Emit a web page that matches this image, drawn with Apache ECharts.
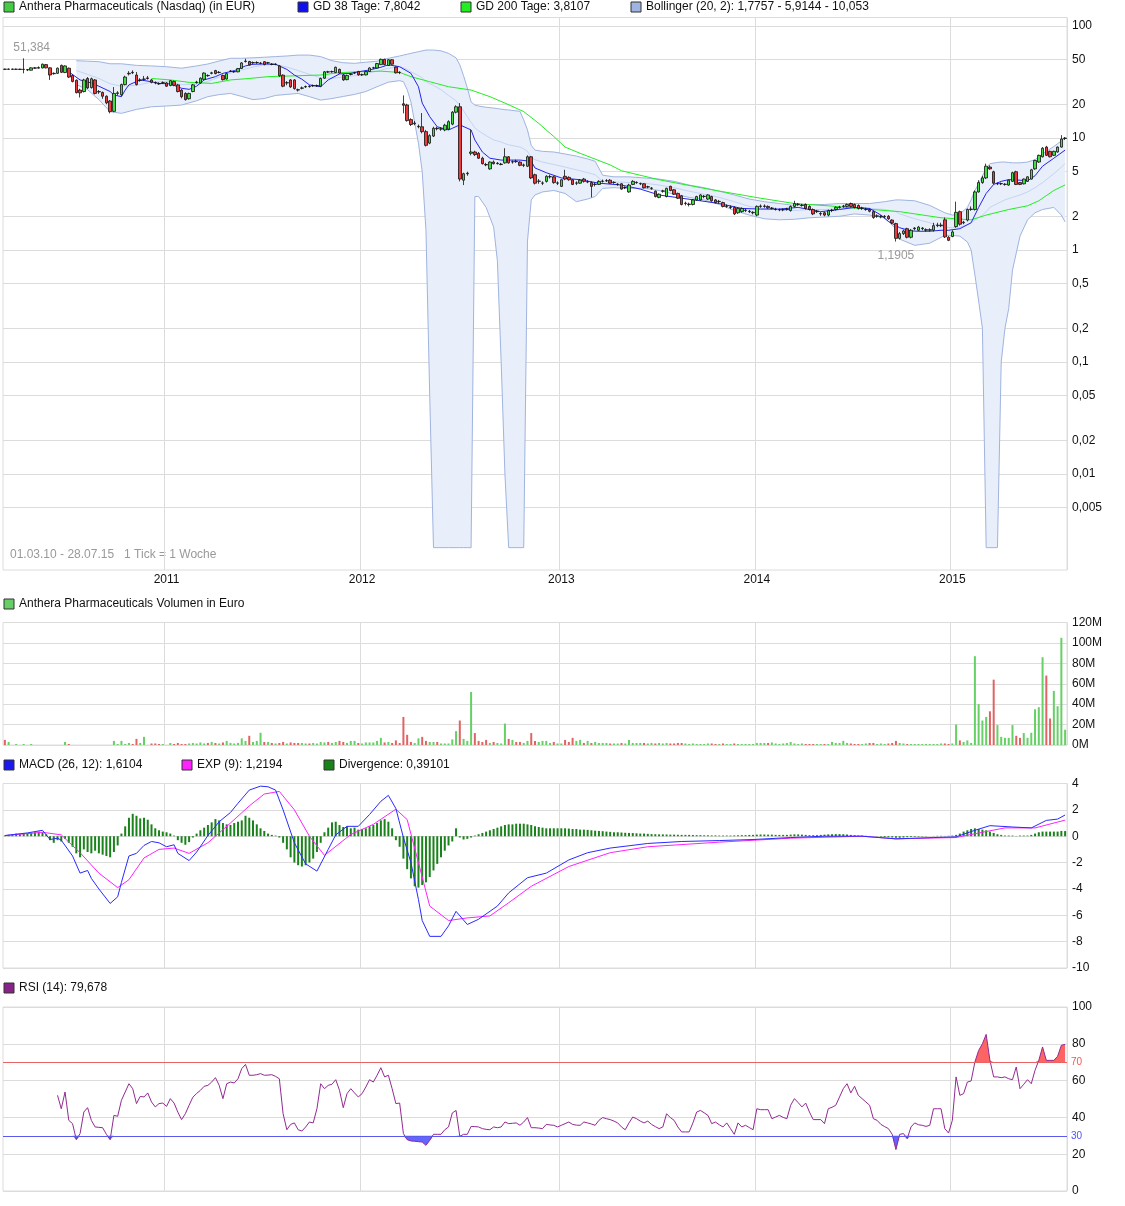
<!DOCTYPE html>
<html><head><meta charset="utf-8">
<script src="https://cdn.jsdelivr.net/npm/echarts@6/dist/echarts.min.js"></script>
<style>html,body{margin:0;padding:0;background:#fff}#c{width:1125px;height:1206px}</style>
</head><body><div id="c"></div>
<script>
// ---------- DATA ----------
const firstWeek = '2010-03-01';
const weekCount = 283;
// weekly candles [open, close, low, high] in EUR
const candles = [
[41.2,41.0,40.6,41.6],[41.0,41.3,40.7,41.7],[41.3,41.0,40.6,41.6],[41.0,41.2,40.6,41.6],[41.2,40.9,40.5,41.5],[40.9,41.1,37.8,51.384],[40.8,40.5,39.6,41.2],[40.3,42.3,40.0,42.8],[42.3,42.0,41.4,43.0],[42.0,42.6,41.6,43.6],
[42.2,45.6,41.8,46.2],[45.2,42.3,41.8,45.8],[42.3,36.5,33.0,42.8],[37.5,37.8,36.8,38.5],[37.8,42.0,37.3,42.6],[44.5,38.6,38.0,45.2],[38.4,44.0,38.0,44.6],[42.0,35.0,34.3,42.6],[36.2,32.0,31.4,36.8],[32.8,25.4,25.0,33.3],
[26.8,25.3,23.0,27.5],[26.0,33.0,25.5,33.8],[34.0,28.0,27.4,35.0],[28.2,33.8,27.6,34.6],[33.0,25.0,24.5,33.6],[25.8,26.0,24.8,26.8],[25.5,23.6,22.4,26.0],[23.6,20.6,20.0,24.0],[21.4,17.2,16.6,21.8],[17.3,25.0,17.0,28.5],
[25.0,25.3,24.0,26.2],[24.3,30.0,23.6,30.6],[30.0,35.0,29.5,36.0],[37.4,37.8,36.2,39.5],[38.6,38.3,37.2,40.2],[36.5,30.0,29.4,38.8],[32.6,33.0,31.8,34.2],[33.4,33.6,32.6,35.8],[34.4,34.0,33.2,35.8],[33.0,31.4,30.8,33.6],
[31.2,31.0,30.2,32.0],[30.6,30.4,29.8,31.4],[31.0,31.2,30.4,32.0],[31.0,29.0,28.6,31.6],[29.4,32.5,29.0,33.0],[32.0,29.6,29.0,32.6],[29.8,26.0,25.5,30.4],[26.8,23.4,22.6,27.4],[25.0,22.0,21.6,25.6],[22.4,25.0,22.0,25.4],
[26.0,29.8,25.6,30.4],[31.2,31.6,30.6,32.4],[31.0,34.2,30.6,34.8],[33.4,38.0,33.0,38.6],[36.2,36.0,35.2,37.0],[37.8,38.2,37.0,39.0],[40.0,37.6,37.0,40.6],[38.4,38.6,37.8,39.6],[36.2,33.2,32.6,36.8],[33.6,37.6,33.2,38.2],
[39.4,39.6,38.8,40.4],[39.0,39.2,38.2,39.8],[39.0,41.6,38.6,42.2],[41.8,46.8,41.4,47.6],[48.2,48.6,47.2,51.0],[48.2,45.0,44.4,48.8],[46.8,47.2,46.0,48.2],[47.0,47.2,46.0,48.4],[46.4,46.6,45.6,47.6],[48.0,45.2,44.6,48.6],
[46.8,47.0,46.0,47.8],[45.6,45.4,44.6,46.6],[45.4,45.6,44.6,46.4],[44.0,36.0,35.2,44.6],[36.4,29.0,28.4,37.0],[31.0,31.2,29.6,32.2],[33.0,28.6,28.0,33.6],[33.0,27.6,27.0,33.6],[27.0,26.8,26.0,27.6],[27.8,28.0,27.2,28.8],
[28.6,28.8,28.0,29.4],[29.0,28.8,28.2,29.6],[29.2,29.4,28.6,30.0],[29.2,29.4,28.6,30.0],[29.0,34.0,28.6,34.6],[34.2,39.0,33.8,39.6],[39.0,38.8,38.0,39.8],[39.0,39.2,38.2,40.0],[38.4,42.8,38.0,43.4],[41.0,38.0,37.4,41.6],
[36.6,33.0,32.4,37.2],[33.2,36.2,32.8,36.8],[37.0,37.2,36.2,38.0],[38.0,38.2,37.2,39.0],[39.2,36.6,36.0,39.8],[36.6,36.8,35.8,37.6],[36.6,39.2,36.2,39.8],[39.2,42.2,38.8,42.8],[42.2,42.4,41.4,43.2],[42.2,46.2,41.8,46.8],
[45.2,50.4,44.8,51.2],[50.4,45.2,44.6,51.0],[44.4,50.0,44.0,50.6],[50.0,45.6,45.0,50.6],[43.0,38.2,37.6,43.6],[38.6,38.4,37.2,39.4],[20.2,19.6,16.6,24.0],[19.7,14.3,14.0,20.2],[14.6,13.2,12.8,15.0],[13.4,13.6,13.0,14.2],
[12.6,12.7,12.2,13.2],[12.6,11.4,11.0,16.7],[11.4,8.6,8.4,11.8],[9.0,10.5,8.8,10.8],[10.4,12.2,10.2,12.6],[12.2,12.1,11.7,12.6],[12.0,12.1,11.6,12.5],[11.8,13.0,11.5,13.4],[12.0,14.0,11.8,14.4],[13.3,17.0,13.0,17.4],
[17.0,19.0,16.6,19.6],[19.0,4.3,4.1,20.5],[4.2,4.8,3.8,4.9],[4.8,4.85,4.6,5.0],[7.3,7.5,7.0,11.8],[7.5,7.1,6.9,7.7],[7.3,6.6,6.5,7.5],[6.6,5.9,5.8,6.8],[5.8,5.75,5.6,6.0],[5.3,6.1,5.2,6.2],
[6.1,5.9,5.8,6.3],[5.9,5.95,5.8,6.1],[5.8,5.85,5.7,6.0],[6.0,6.8,5.9,8.1],[6.8,6.0,5.9,6.9],[6.1,6.15,5.9,6.3],[6.2,6.15,6.0,6.4],[6.1,5.7,5.6,6.2],[5.7,5.75,5.5,5.9],[5.6,6.8,5.5,7.0],
[6.8,4.4,4.3,6.9],[4.7,3.95,3.85,4.8],[4.1,4.12,3.9,4.3],[3.95,3.97,3.8,4.1],[4.1,4.55,4.0,4.65],[4.5,4.52,4.35,4.7],[4.5,4.0,3.9,4.6],[3.95,3.97,3.8,4.1],[3.7,4.24,3.65,4.3],[4.55,4.3,4.2,5.2],
[4.45,4.24,4.15,4.55],[4.24,3.85,3.8,4.3],[3.95,3.97,3.8,4.1],[3.95,4.2,3.9,4.3],[4.3,4.1,4.0,4.4],[4.05,4.07,3.95,4.2],[4.0,3.7,2.95,4.1],[3.85,3.87,3.7,4.0],[3.85,4.1,3.8,4.2],[4.1,4.12,4.0,4.25],
[4.15,4.17,4.05,4.3],[4.2,3.95,3.9,4.3],[4.0,4.02,3.9,4.1],[3.85,3.87,3.75,3.95],[3.9,3.5,3.45,3.95],[3.6,3.62,3.5,3.7],[3.3,3.8,3.25,3.9],[3.85,4.1,3.8,4.2],[4.0,4.02,3.9,4.1],[3.9,3.92,3.8,4.0],
[3.9,3.6,3.55,3.95],[3.65,3.67,3.55,3.75],[3.55,3.57,3.45,3.65],[3.35,3.0,2.95,3.4],[2.95,3.15,2.9,3.2],[3.35,3.37,3.25,3.45],[3.0,3.55,2.95,3.6],[3.7,3.4,3.35,3.75],[3.45,3.15,3.1,3.5],[3.2,2.9,2.85,3.25],
[3.05,2.55,2.5,3.1],[2.6,2.62,2.5,2.7],[2.55,2.57,2.45,2.65],[2.55,2.8,2.5,2.85],[2.8,3.0,2.75,3.05],[2.8,3.1,2.75,3.15],[3.0,3.02,2.9,3.1],[2.85,3.1,2.8,3.15],[3.0,2.75,2.7,3.05],[2.8,2.65,2.6,2.85],
[2.7,2.72,2.6,2.8],[2.65,2.45,2.4,2.7],[2.45,2.47,2.38,2.55],[2.4,2.42,2.32,2.5],[2.4,2.1,2.05,2.45],[2.15,2.35,2.1,2.4],[2.2,2.35,2.15,2.4],[2.25,2.27,2.18,2.33],[2.2,2.22,2.14,2.28],[2.15,2.17,2.08,2.22],
[2.05,2.45,2.0,2.5],[2.45,2.47,2.38,2.55],[2.45,2.47,2.38,2.55],[2.45,2.38,2.33,2.5],[2.35,2.37,2.3,2.42],[2.3,2.32,2.25,2.38],[2.28,2.3,2.22,2.35],[2.28,2.3,2.22,2.35],[2.3,2.32,2.25,2.38],[2.25,2.45,2.2,2.5],
[2.45,2.6,2.4,2.75],[2.55,2.57,2.48,2.63],[2.5,2.52,2.44,2.58],[2.55,2.35,2.3,2.6],[2.45,2.3,2.25,2.5],[2.3,2.1,2.05,2.35],[2.2,2.22,2.14,2.28],[2.1,2.12,2.02,2.18],[2.15,2.05,2.0,2.2],[2.05,2.25,2.0,2.3],
[2.25,2.27,2.18,2.33],[2.3,2.4,2.25,2.45],[2.4,2.42,2.34,2.48],[2.45,2.47,2.38,2.53],[2.45,2.55,2.4,2.6],[2.6,2.45,2.4,2.65],[2.55,2.4,2.35,2.6],[2.5,2.35,2.3,2.55],[2.35,2.37,2.28,2.43],[2.3,2.32,2.24,2.38],
[2.3,2.22,2.17,2.35],[2.2,1.95,1.9,2.25],[2.0,2.02,1.94,2.08],[1.98,2.0,1.92,2.05],[1.98,2.0,1.92,2.05],[2.0,1.9,1.86,2.05],[1.85,1.75,1.7,1.88],[1.72,1.27,1.1905,1.75],[1.27,1.4,1.24,1.45],[1.4,1.48,1.36,1.52],
[1.55,1.3,1.27,1.58],[1.3,1.5,1.27,1.54],[1.55,1.57,1.5,1.6],[1.5,1.6,1.47,1.64],[1.55,1.57,1.5,1.6],[1.5,1.52,1.46,1.56],[1.5,1.52,1.46,1.56],[1.5,1.65,1.46,1.75],[1.65,1.67,1.6,1.75],[1.65,1.67,1.6,1.75],
[1.86,1.31,1.28,1.95],[1.3,1.22,1.2,1.33],[1.32,1.45,1.3,1.5],[1.62,2.17,1.58,2.7],[2.2,1.7,1.65,2.25],[1.75,1.77,1.7,1.82],[1.85,2.3,1.8,2.35],[2.3,2.32,2.24,2.45],[2.3,3.3,2.25,3.4],[3.3,4.0,3.25,4.2],
[4.0,4.4,3.9,4.6],[4.4,5.6,4.3,5.9],[5.5,5.3,5.2,5.7],[5.0,3.95,3.85,5.1],[3.9,3.92,3.8,4.0],[3.9,3.92,3.8,4.0],[3.85,3.87,3.75,3.95],[3.8,4.2,3.75,4.25],[4.1,4.9,4.05,5.0],[5.0,3.85,3.8,5.1],
[4.0,3.85,3.8,4.05],[3.9,4.3,3.85,4.35],[4.1,4.5,4.05,4.55],[4.3,5.2,4.25,5.3],[5.3,6.3,5.2,6.4],[6.1,7.0,6.0,7.1],[6.8,8.1,6.7,8.3],[8.3,7.0,6.9,8.5],[7.6,6.8,6.7,7.7],[7.0,7.6,6.9,7.7],
[7.5,8.3,7.4,8.4],[8.3,9.8,8.2,10.6],[9.9,10.0,9.6,10.2]
];
// weekly volume, million EUR
const volume = [
5,3,0,1,0,1,0,1,0,0, 0,0,0,0,0,0,3,1,0,0, 0,0,0,0,0,0,0,0,0,4, 1,4,1,2,1,6,2,8,0,1.5,
1.5,1,1,0,2,1,2,1,1,1.5, 2,1.5,2.5,1.5,2,3,2,1.5,2.5,4, 2,1.5,2,6.5,4,9,3,4,12,3, 3,2,1.5,2,3,1.5,2.5,2,2,2,
1.5,1.5,2,1.5,3,2.5,3,2,3,4, 3,2,4,4,2,1.5,2.5,2.5,2.5,4, 7,2.5,3,2,4.5,2,27.5,10,3,2, 6.5,8,4,3,3,3,1.5,1.5,1.5,5.5,
13.6,24,6,4,52,11.7,4,3,5,2, 3,2,1.5,21,6,5,3,3,2,4, 11.7,4,3,4,4,2,3,1.5,1.5,5, 3,7,4,5,2,4,2,3,2,2,
2,1.5,1.5,1.5,2,1.5,5,2,2,2, 2,1.5,2,1.5,2,1.5,2,1.5,1.5,2, 2,1.5,1,1.5,1,1,1,1.5,1.5,1, 1,1.5,1,1,1.5,1,1,1,1,1,
2,2,2,2,2.5,1.5,1,1.5,2,3, 1.5,1,1.5,1,1,1,1,1,1,1, 3,2,2,4,2,1.5,1,1,1,1.5, 2,2,1,1.5,1,1.5,2,4,2,1.5,
1,1,1,1,1,1,1,1,1,1.5, 1.5,1,1.5,20,4.5,3,4.5,2,87,40, 24,27.5,33,64,19.5,8,7,7,19.5,9, 7,11.7,7,12,35,37,86,68,26,53,
38,105,15
];
// moving averages: [week index, EUR]
const gd38 = [[17,39],[20,33],[23,31],[25,29],[28,26],[29,24.2],[31,23.4],[32,26.8],[33,29.8],[36,33],[39,31.8],[41,30.7],[44,30.4],[47,27.8],[49,27.2],[51,29],[53,33],[56,35.3],[58,37.8],[61,39.9],[64,44],[66,45.5],[69,45.8],[72,45.5],[75,41],[77,36.5],[79,33.5],[81,29.8],[84,28.7],[86,33],[89,37.3],[92,37.8],[94,39],[97,40.5],[100,42.8],[102,45],[105,43.3],[108,37.8],[110,28.7],[111,20.5],[113,15.5],[115,12.6],[118,11.8],[119,12.2],[121,13.1],[124,11.8],[125,9.6],[127,7.5],[129,6.6],[132,6.35],[137,6.35],[140,6.2],[141,5.4],[144,4.9],[148,4.4],[153,4.24],[158,3.95],[164,3.8],[169,3.5],[174,3.1],[180,2.9],[185,2.75],[190,2.6],[196,2.35],[201,2.32],[206,2.32],[211,2.4],[217,2.2],[222,2.3],[226,2.4],[230,2.35],[233,2.05],[235,1.8],[238,1.58],[241,1.48],[243,1.47],[246,1.47],[249,1.5],[251,1.5],[254,1.55],[257,1.75],[259,2.4],[261,3.2],[263,3.85],[265,4.1],[267,4.25],[270,4.2],[272,4.15],[274,4.6],[276,5.6],[279,6.6],[282,7.8]];
const gd200 = [[39,34],[44,33],[49,31.4],[55,30.7],[60,33],[65,34],[70,35.3],[76,35.8],[84,36.5],[89,38.3],[94,39],[100,39.5],[105,38.5],[108,35.3],[113,31.8],[118,28.7],[124,26.8],[129,23.4],[133,20.5],[138,17.2],[142,13.5],[146,10.3],[149,8.3],[153,7.3],[161,5.75],[164,5.1],[174,4.24],[188,3.45],[201,2.9],[210,2.6],[219,2.48],[227,2.35],[238,2.2],[249,1.94],[257,1.86],[261,2.05],[267,2.3],[272,2.48],[275,2.75],[279,3.4],[282,3.81]];
// Bollinger (20, 2): [week index, lower, middle, upper]
const bollinger = [[19,30,40,49],[22,27,37,48.5],[25,22,34,48],[28,17.2,30.5,46],[31,16.6,29,46],[35,18,29.5,44.5],[39,19,31.5,44],[43,19.3,32,43.3],[47,19.7,30,42],[51,21.5,30,44],[54,23.4,32,45.8],[57,24.4,35,48.7],[60,25,38,51.5],[63,23.5,40.5,51.5],[66,22,43,52],[69,22.5,45,52.6],[72,24,45.5,53.3],[75,24.5,43,54],[78,25,40,55],[81,23.4,37,55],[84,21.8,34.5,53.3],[87,22.5,34,49],[90,23.5,35,47],[93,24.5,36,46.4],[96,26,37.5,47.5],[99,28.7,39.5,48.5],[102,31.5,42,51.5],[105,32.5,43,54],[106,31.8,42.5,55],[107,27,41,56],[108,21,39,57],[110,9,36,59],[111,5,34.5,60],[112,1.5,32,61],[113,0.05,30.5,61],[114,0.0022,29.5,61],[116,0.0022,27,60],[118,0.0022,24,57],[120,0.0022,21.5,52],[121,0.0022,19.5,45],[122,0.0022,17.5,36],[123,0.0022,15.5,28],[124,0.0022,13.8,21],[125,3.0,12.3,19.7],[126,3.0,11.6,19.3],[128,2.4,10.5,18.8],[130,1.6,9.6,18.5],[131,0.8,9.4,18.3],[132,0.1,9.2,18.1],[133,0.01,8.9,17.9],[134,0.0022,8.7,17.8],[137,0.0022,8.3,17.3],[138,0.0022,8.0,14.5],[139,1.2,7.6,11.8],[140,2.8,6.7,8.6],[141,3.1,6.4,7.8],[143,3.3,6.1,7.6],[146,3.4,5.8,7.5],[149,3.2,5.5,7.2],[152,2.7,5.2,6.9],[155,2.85,4.9,6.5],[157,3.0,4.7,6.2],[159,3.55,4.1,4.65],[162,3.6,4.05,4.5],[166,3.55,4.0,4.5],[170,3.55,3.95,4.4],[174,3.4,3.8,4.3],[178,3.15,3.6,4.1],[182,2.95,3.35,3.8],[186,2.8,3.15,3.6],[190,2.55,2.95,3.35],[194,2.25,2.7,3.1],[198,2.05,2.45,2.85],[202,1.9,2.35,2.7],[206,1.86,2.28,2.6],[210,1.88,2.25,2.5],[214,1.94,2.3,2.55],[218,1.97,2.3,2.55],[222,2.0,2.32,2.6],[226,2.1,2.38,2.6],[230,2.05,2.35,2.6],[234,1.93,2.3,2.7],[237,1.55,2.2,2.8],[238,1.25,2.1,2.8],[242,1.1,1.9,2.75],[246,1.15,1.75,2.5],[250,1.35,1.6,2.15],[252,1.35,1.58,2.05],[254,1.33,1.6,2.1],[256,1.18,1.68,2.4],[257,1.0,1.75,2.8],[258,0.6,1.85,3.4],[259,0.35,1.95,3.9],[260,0.2,2.05,4.6],[261,0.0022,2.2,5.3],[262,0.0022,2.4,5.9],[264,0.0022,2.6,6.05],[265,0.1,2.7,6.1],[266,0.2,2.8,6.1],[267,0.3,2.88,6.05],[268,0.66,2.95,6.0],[270,1.33,3.1,6.0],[272,1.86,3.3,6.1],[274,2.15,3.6,6.4],[276,2.3,4.0,7.2],[279,2.4,4.8,8.4],[281,2.05,5.5,9.4],[282,1.78,5.91,10.05]];
// MACD (26,12) and EXP(9): [week index, value]
const macdLine = [[0,0.05],[6,0.25],[10,0.45],[12,-0.25],[14,-0.15],[15,-0.3],[18,-1.5],[20,-2.8],[22,-2.6],[23,-3.2],[25,-4.0],[28,-5.1],[30,-4.6],[31,-3.5],[33,-1.5],[35,-1.3],[37,-0.7],[39,-0.4],[41,-0.5],[43,-0.8],[45,-0.65],[46,-1.3],[49,-1.85],[51,-1.2],[54,0.05],[57,1.1],[60,1.8],[62,2.5],[65,3.5],[68,3.8],[70,3.75],[72,3.5],[74,2.0],[77,-0.5],[80,-2.1],[83,-2.65],[86,-1.0],[88,0.1],[91,0.75],[94,0.75],[97,1.65],[100,2.65],[102,3.1],[104,2.1],[106,-0.1],[108,-2.0],[110,-4.8],[111,-6.4],[113,-7.6],[116,-7.6],[118,-6.8],[120,-5.7],[123,-6.7],[126,-6.3],[131,-5.3],[134,-4.3],[139,-3.15],[144,-2.8],[150,-1.8],[155,-1.25],[161,-0.9],[171,-0.55],[180,-0.4],[190,-0.33],[199,-0.25],[209,-0.1],[218,0],[228,0],[237,-0.2],[247,-0.1],[253,-0.05],[258,0.45],[262,0.8],[268,0.7],[273,0.63],[277,1.2],[280,1.3],[282,1.61]];
const expLine = [[0,0.05],[10,0.3],[15,0.1],[20,-1.25],[25,-2.8],[30,-3.9],[33,-3.3],[37,-1.65],[41,-1.0],[45,-0.9],[49,-1.3],[54,-0.5],[60,1.0],[65,2.3],[69,3.2],[73,3.4],[77,2.0],[81,0],[85,-1.45],[87,-1.0],[92,0.13],[98,0.9],[104,2.05],[107,1.26],[110,-2.0],[113,-5.3],[118,-6.4],[123,-6.2],[129,-6.05],[134,-5.05],[140,-3.8],[150,-2.3],[161,-1.25],[171,-0.8],[190,-0.45],[209,-0.15],[228,0],[237,-0.2],[253,-0.1],[260,0.3],[266,0.63],[274,0.63],[282,1.22]];
// weekly divergence bars
const divergence = [
0.05,0.1,0.15,0.2,0.15,0.2,0.2,0.25,0.3,0.35, 0.3,0.15,-0.3,-0.5,-0.3,-0.4,-0.2,-0.5,-0.8,-1.3, -1.6,-1.0,-1.2,-1.3,-1.1,-1.3,-1.4,-1.5,-1.6,-1.2,
-0.7,0.2,0.75,1.4,1.7,1.55,1.35,1.4,1.25,0.9, 0.6,0.45,0.35,0.3,0.2,0.05,-0.3,-0.5,-0.65,-0.45, -0.1,0.2,0.45,0.65,0.85,1.05,1.3,1.2,1.0,0.9,
0.85,1.0,1.1,1.2,1.55,1.4,1.2,0.9,0.6,0.4, 0.2,0.1,0.05,-0.1,-0.5,-1.0,-1.6,-2.0,-2.2,-2.3, -2.2,-2.0,-1.7,-1.2,-0.5,0.3,0.65,1.05,1.1,0.85,
0.7,0.75,0.6,0.65,0.5,0.55,0.6,0.75,0.85,1.0, 1.2,1.3,1.1,0.6,-0.3,-0.8,-1.7,-2.5,-3.2,-3.8, -3.9,-3.7,-3.5,-3.1,-2.6,-2.1,-1.6,-1.1,-0.7,-0.4,
0.6,-0.1,-0.25,-0.2,-0.1,0.05,0.15,0.25,0.35,0.45, 0.55,0.65,0.75,0.85,0.9,0.9,0.95,0.95,0.95,0.9, 0.85,0.75,0.7,0.65,0.6,0.6,0.6,0.6,0.6,0.6,
0.58,0.55,0.55,0.5,0.5,0.48,0.45,0.42,0.4,0.38, 0.35,0.33,0.3,0.3,0.28,0.26,0.25,0.24,0.22,0.2, 0.2,0.18,0.16,0.15,0.14,0.14,0.13,0.12,0.12,0.11,
0.1,0.1,0.1,0.09,0.08,0.08,0.07,0.07,0.06,0.06, 0.05,0.05,0.05,0.05,0.06,0.07,0.08,0.08,0.1,0.1, 0.12,0.13,0.13,0.12,0.12,0.1,0.1,0.1,0.1,0.12,
0.14,0.14,0.12,0.1,0.08,0.08,0.08,0.1,0.12,0.14, 0.15,0.16,0.16,0.15,0.13,0.1,0.08,0.06,0.05,0.03, 0.02,0,-0.02,-0.04,-0.06,-0.08,-0.1,-0.12,-0.12,-0.1,
-0.08,-0.06,-0.05,-0.04,-0.03,-0.02,0,0.02,0.03,0.03, 0.02,0.03,0.05,0.1,0.2,0.35,0.45,0.55,0.6,0.55, 0.5,0.45,0.35,0.25,0.15,0.1,0.05,0.05,0.05,0.02,
0.05,0.05,0.05,0.1,0.2,0.3,0.35,0.35,0.35,0.35, 0.35,0.4,0.39
];
// RSI (14): [week index, value]
const rsi = [[14,52],[15,44.7],[16,53.8],[17,38.4],[18,36.6],[19,27.9],[20,31.2],[21,42.9],[22,45.3],[23,38.4],[24,34.8],[25,34.6],[26,34.4],[27,30.8],[28,27.9],[29,41.1],[30,40.6],[31,49.3],[32,53.8],[33,58.3],[34,55.6],[35,47.5],[36,51.4],[37,51.1],[38,53.3],[39,48.4],[40,45.7],[41,47.5],[42,47.8],[43,46],[44,50.2],[45,47.8],[46,42.9],[47,38.8],[48,42],[49,46.6],[50,51],[51,53],[52,54.7],[53,56.9],[54,57.4],[55,59.2],[56,61.6],[57,57.4],[58,50.2],[59,58.3],[60,59.2],[61,58.7],[62,61],[63,66.5],[64,68.8],[65,62.9],[66,62.9],[67,63.2],[68,63.8],[69,62.9],[70,63],[71,63.2],[72,62.3],[73,61],[74,42],[75,33.3],[76,36.2],[77,37],[78,33.3],[79,32.6],[80,34.8],[81,37.5],[82,37],[83,44.7],[84,58.3],[85,55.6],[86,57.4],[87,58],[88,60.5],[89,54.7],[90,45.3],[91,52.9],[92,55.6],[93,53.3],[94,51.1],[95,52.9],[96,56.5],[97,60.5],[98,59.2],[99,62.9],[100,67],[101,62],[102,62.9],[103,55.6],[104,47.5],[105,47.8],[106,31.2],[107,27.9],[108,27.2],[109,27],[110,26.8],[111,26.6],[112,24.8],[113,27.5],[114,30.8],[115,30.8],[116,30.8],[117,33.3],[118,34.8],[119,42.4],[120,43.8],[121,29.7],[122,30.8],[123,30.8],[124,35.1],[125,35],[126,34.8],[127,33.9],[128,33.5],[129,33.3],[130,34.8],[131,34.4],[132,34.8],[133,37.5],[134,36.6],[135,36.8],[136,37],[137,35.7],[138,37.5],[139,39.9],[140,34.4],[141,34.4],[142,34.2],[143,33.9],[144,36.2],[145,35.9],[146,35.7],[147,34.8],[148,35.7],[149,36.6],[150,37.5],[151,36.2],[152,35.8],[153,35.7],[154,37.5],[155,37],[156,36.4],[157,35.7],[158,38.4],[159,39.9],[160,39.3],[161,38.8],[162,38],[163,37],[164,34.8],[165,33.3],[166,37],[167,40.2],[168,39.3],[169,38],[170,37],[171,38],[172,36.2],[173,35],[174,33.9],[175,34.8],[176,42],[177,39.9],[178,38.4],[179,34.8],[180,32.1],[181,32.1],[182,32.1],[183,37],[184,42.9],[185,43.8],[186,42.5],[187,41.1],[188,36.6],[189,37.5],[190,36],[191,34.8],[192,37],[193,33.9],[194,30.8],[195,37],[196,34.8],[197,35.7],[198,34.5],[199,33.3],[200,44.7],[201,44.2],[202,44.2],[203,44.2],[204,39.3],[205,40.2],[206,41.1],[207,40],[208,39.3],[209,46.6],[210,50.2],[211,48],[212,45.7],[213,47.8],[214,42.9],[215,38.8],[216,38.8],[217,38.8],[218,36.6],[219,44.7],[220,45.5],[221,46.6],[222,51.1],[223,55.6],[224,58.3],[225,53.3],[226,56.9],[227,52],[228,50.2],[229,48.4],[230,46.6],[231,39.3],[232,38.4],[233,36.2],[234,35],[235,33.9],[236,30.8],[237,22.5],[238,30.8],[239,31.2],[240,28.4],[241,34.8],[242,37],[243,36],[244,35.7],[245,35.1],[246,35.7],[247,44.7],[248,44.7],[249,44.7],[250,33.9],[251,31.5],[252,38.4],[253,62],[254,52],[255,52.9],[256,59.2],[257,59.8],[258,70.1],[259,76.4],[260,80],[261,85.1],[262,71],[263,62],[264,62],[265,61.6],[266,62],[267,61],[268,60.5],[269,67.4],[270,55.6],[271,58],[272,60.5],[273,58.3],[274,65.6],[275,71],[276,78.3],[277,71],[278,71],[279,71],[280,73.2],[281,79.2],[282,79.7]];
// axis ticks
const priceTicks = [100,50,20,10,5,2,1,0.5,0.2,0.1,0.05,0.02,0.01,0.005];
const rsiUpper = 70, rsiLower = 30;

// ---------- CHART ----------
const FONT = '"Liberation Sans", Arial, sans-serif';
const lg = v => Math.log10(v);
const fmt = v => String(Number(v.toPrecision(6))).replace('.', ',');
const DAY = 864e5, T0 = Date.parse(firstWeek);
const dates = Array.from({length: weekCount}, (_, i) => new Date(T0 + i*7*DAY).toISOString().slice(0,10));
const yearStart = i => new Date(T0 + i*7*DAY).getUTCFullYear() !== new Date(T0 + (i*7+6)*DAY).getUTCFullYear();
const isUp = i => candles[i][1] >= candles[i][0];
const GRID = '#dcdcdc';

const grids = [
  {left:3, top:17.5, width:1064, height:552.5},
  {left:3, top:622.5, width:1064, height:122.5},
  {left:3, top:783.5, width:1064, height:184.5},
  {left:3, top:1007, width:1064, height:184}
].map(g => Object.assign(g, {show:true, borderColor:GRID, borderWidth:1, backgroundColor:'transparent'}));

const xAxes = [0,1,2,3].map(gi => ({
  type:'category', gridIndex:gi, data:dates, boundaryGap:true,
  axisLine:{show:false}, axisTick:{show:false},
  axisLabel:{show: gi===0, interval:(i)=>yearStart(i), color:'#111', fontSize:12, fontFamily:FONT, margin:4,
    formatter:(v)=>String(new Date(Date.parse(v)+6*DAY).getUTCFullYear())},
  splitLine:{show:true, interval:(i)=>yearStart(i), lineStyle:{color:GRID, width:1}}
}));

const yLabel = {color:'#111', fontSize:12, fontFamily:FONT, margin:5};
const yAxes = [
  {type:'value', gridIndex:0, position:'right', min:2-(570-26)/112, max:2+(26-17.5)/112,
   axisLine:{show:false}, axisTick:{show:false, customValues:priceTicks.map(lg)},
   axisLabel:Object.assign({customValues:priceTicks.map(lg), formatter:v=>fmt(Math.pow(10,v))}, yLabel),
   splitLine:{lineStyle:{color:GRID}}},
  {type:'value', gridIndex:1, position:'right', min:0, max:120, interval:20,
   axisLine:{show:false}, axisTick:{show:false},
   axisLabel:Object.assign({formatter:v=>v+'M'}, yLabel), splitLine:{lineStyle:{color:GRID}}},
  {type:'value', gridIndex:2, position:'right', min:-10, max:4, interval:2,
   axisLine:{show:false}, axisTick:{show:false}, axisLabel:yLabel, splitLine:{lineStyle:{color:GRID}}},
  {type:'value', gridIndex:3, position:'right', min:0, max:100, interval:20,
   axisLine:{show:false}, axisTick:{show:false}, axisLabel:yLabel, splitLine:{lineStyle:{color:GRID}}}
];

const hiIdx = candles.reduce((b, c, i) => c[3] > candles[b][3] ? i : b, 0);
const loIdx = candles.reduce((b, c, i) => c[2] < candles[b][2] ? i : b, 0);

const line = (name, data, color, extra) => Object.assign({
  name, type:'line', xAxisIndex:0, yAxisIndex:0, data, symbol:'none', silent:true,
  lineStyle:{color, width:1}, z:2
}, extra||{});

const series = [
  line('bbBase', bollinger.map(r=>[r[0], lg(r[1])]), '#000', {stack:'bb', stackStrategy:'all', lineStyle:{opacity:0}}),
  line('bbFill', bollinger.map(r=>[r[0], lg(r[3])-lg(r[1])]), '#000', {stack:'bb', stackStrategy:'all', lineStyle:{opacity:0}, areaStyle:{color:'#e8effa', opacity:1}}),
  line('bbMid', bollinger.map(r=>[r[0], lg(r[2])]), '#c3d4f3'),
  line('bbUp', bollinger.map(r=>[r[0], lg(r[3])]), '#9fb4e0'),
  line('bbLow', bollinger.map(r=>[r[0], lg(r[1])]), '#9fb4e0'),
  line('gd200', gd200.map(r=>[r[0], lg(r[1])]), '#22ee22'),
  line('gd38', gd38.map(r=>[r[0], lg(r[1])]), '#2424ee'),
  {name:'price', type:'candlestick', xAxisIndex:0, yAxisIndex:0, barWidth:3, z:3,
   data: candles.map(c=>[lg(c[0]), lg(c[1]), lg(c[2]), lg(c[3])]),
   itemStyle:{color:'#44dd44', color0:'#ee3a3a', borderColor:'#111', borderColor0:'#111', borderWidth:0.8},
   markPoint:{symbolSize:0, silent:true, data:[
     {coord:[hiIdx, lg(candles[hiIdx][3])], label:{show:true, position:'top', distance:5, offset:[8,0], formatter:fmt(candles[hiIdx][3]), color:'#999', fontSize:12, fontFamily:FONT}},
     {coord:[loIdx, lg(candles[loIdx][2])], label:{show:true, position:'bottom', distance:6, offset:[0,2], formatter:fmt(candles[loIdx][2]), color:'#999', fontSize:12, fontFamily:FONT}}
   ]}},
  {name:'volume', type:'bar', xAxisIndex:1, yAxisIndex:1, barWidth:2, silent:true,
   data: volume.map((v,i)=>({value:v, itemStyle:{color: isUp(i) ? '#66d066' : '#e06464'}}))},
  {name:'div', type:'bar', xAxisIndex:2, yAxisIndex:2, barWidth:2, silent:true, data:divergence, itemStyle:{color:'#1a821a'}},
  {name:'exp', type:'line', xAxisIndex:2, yAxisIndex:2, data:expLine, symbol:'none', silent:true, lineStyle:{color:'#ff22ff', width:1}},
  {name:'macd', type:'line', xAxisIndex:2, yAxisIndex:2, data:macdLine, symbol:'none', silent:true, lineStyle:{color:'#2a2aff', width:1}},
  {name:'rsiHi', type:'line', xAxisIndex:3, yAxisIndex:3, symbol:'none', silent:true, lineStyle:{opacity:0},
   data: rsi.map(r=>[r[0], Math.max(r[1], rsiUpper)]), areaStyle:{origin:rsiUpper, color:'#ff6464', opacity:1}},
  {name:'rsiLo', type:'line', xAxisIndex:3, yAxisIndex:3, symbol:'none', silent:true, lineStyle:{opacity:0},
   data: rsi.map(r=>[r[0], Math.min(r[1], rsiLower)]), areaStyle:{origin:rsiLower, color:'#6464ff', opacity:1}},
  {name:'rsi', type:'line', xAxisIndex:3, yAxisIndex:3, symbol:'none', silent:true, data:rsi, lineStyle:{color:'#932a93', width:1},
   markLine:{symbol:'none', silent:true, data:[
     {yAxis:rsiUpper, lineStyle:{color:'#e86464', type:'solid', width:1}, label:{position:'end', distance:4, formatter:String(rsiUpper), color:'#ff5050', fontSize:10, fontFamily:FONT}},
     {yAxis:rsiLower, lineStyle:{color:'#5a5aee', type:'solid', width:1}, label:{position:'end', distance:4, formatter:String(rsiLower), color:'#5050ff', fontSize:10, fontFamily:FONT}}
   ]}}
];

const legend = (x, y, color, text) => [
  {type:'rect', shape:{x:x, y:y-5, width:10, height:10}, style:{fill:color, stroke:'#333', lineWidth:1}, silent:true},
  {type:'text', x:x+15, y:y, style:{text, fill:'#111', font:'12px '+FONT, verticalAlign:'middle'}, silent:true}
];
const graphic = [].concat(
  legend(4, 7, '#44cc44', 'Anthera Pharmaceuticals (Nasdaq) (in EUR)'),
  legend(298, 7, '#1010ee', 'GD 38 Tage: 7,8042'),
  legend(461, 7, '#22ee22', 'GD 200 Tage: 3,8107'),
  legend(631, 7, '#9fb4e0', 'Bollinger (20, 2): 1,7757 - 5,9144 - 10,053'),
  legend(4, 604, '#66d066', 'Anthera Pharmaceuticals Volumen in Euro'),
  legend(4, 765, '#1a1aee', 'MACD (26, 12): 1,6104'),
  legend(182, 765, '#ff22ff', 'EXP (9): 1,2194'),
  legend(324, 765, '#1a821a', 'Divergence: 0,39101'),
  legend(4, 988, '#882288', 'RSI (14): 79,678'),
  [{type:'text', x:10, y:555, style:{text:'01.03.10 - 28.07.15   1 Tick = 1 Woche', fill:'#999', font:'12px '+FONT, verticalAlign:'middle'}, silent:true}]
);

const chart = echarts.init(document.getElementById('c'), null, {renderer:'canvas'});
chart.setOption({
  animation:false, backgroundColor:'#fff',
  textStyle:{fontFamily:FONT},
  grid:grids, xAxis:xAxes, yAxis:yAxes, series, graphic
});
</script></body></html>
